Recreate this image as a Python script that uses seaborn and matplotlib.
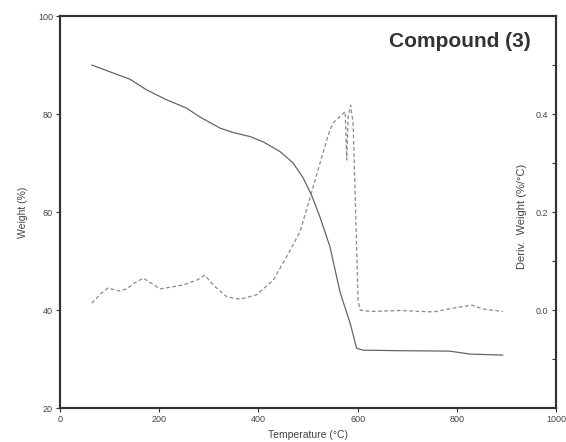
#%% Importing libraries
import pandas as pd
import seaborn as sns
import matplotlib.pyplot as plt

#%% Data
temp_w = [64, 101, 141, 175, 215, 255, 282, 323, 350, 383, 410, 444, 470, 490,
          507, 524, 544, 565, 585, 598, 611, 685, 786, 827, 893]
weight = [90.0, 88.6, 87.1, 84.9, 82.9, 81.2, 79.4, 77.1, 76.2, 75.4, 74.3, 72.3,
          70.0, 67.0, 63.5, 59.0, 53.0, 43.5, 37.3, 32.2, 31.8, 31.7, 31.6, 31.0, 30.8]

temp_d = [64, 84, 97, 110, 121, 134, 150, 168, 185, 202, 225, 248, 276, 292, 310,
          336, 363, 396, 430, 457, 484, 507, 528, 544, 551, 575, 578, 581, 586, 591,
          598, 601, 605, 625, 685, 753, 793, 830, 853, 893]
deriv = [0.014, 0.035, 0.045, 0.041, 0.039, 0.043, 0.055, 0.065, 0.054, 0.043,
         0.047, 0.051, 0.061, 0.071, 0.050, 0.027, 0.022, 0.031, 0.061, 0.109,
         0.160, 0.239, 0.313, 0.367, 0.382, 0.405, 0.306, 0.394, 0.418, 0.380,
         0.130, 0.020, 0.000, -0.003, -0.001, -0.004, 0.004, 0.010, 0.002, -0.003]

x_ticks = [0, 200, 400, 600, 800, 1000]
y_ticks = [20, 40, 60, 80, 100]
d_ticks = [0.0, 0.2, 0.4]

weight_df = pd.DataFrame({'Temperature': temp_w, 'Weight': weight})
deriv_df = pd.DataFrame({'Temperature': temp_d, 'Deriv': deriv})

#%% Plot
sns.set_theme(style='white')
plt.rcParams['font.family'] = ['Liberation Sans', 'DejaVu Sans']
txt = '#444444'

fig = plt.figure(figsize=(5.66, 4.42), dpi=100)
ax = fig.add_axes([60/566, 34/442, 496/566, 392/442])
ax2 = ax.twinx()

sns.lineplot(data=weight_df, x='Temperature', y='Weight', ax=ax,
             color='#666666', linewidth=0.9)
sns.lineplot(data=deriv_df, x='Temperature', y='Deriv', ax=ax2,
             color='#8a8a8a', linewidth=0.9, linestyle=(0, (3, 2)))

ax.set_xlim(0, 1000)
ax.set_ylim(20, 100)
ax2.set_ylim(-0.2, 0.6)
ax.set_xticks(x_ticks)
ax.set_yticks(y_ticks)
ax2.set_yticks(d_ticks)
ax2.set_yticks([-0.1, 0.1, 0.3, 0.5], minor=True)
ax2.set_yticklabels(['0.0', '0.2', '0.4'])

ax.set_xlabel('Temperature (°C)', fontsize=7.5, color=txt, labelpad=4)
ax.set_ylabel('Weight (%)', fontsize=7.5, color=txt)
ax.yaxis.set_label_coords(-0.065, 0.5)
ax2.set_ylabel('Deriv.  Weight (%/°C)', fontsize=8, color=txt, rotation=90)
ax2.yaxis.set_label_coords(0.922, 0.49)

ax.tick_params(axis='both', direction='out', length=3, width=0.8, pad=2,
               labelsize=6.5, labelcolor=txt, color='#333333',
               left=True, bottom=True)
ax2.tick_params(axis='y', which='both', direction='in', length=3, width=0.8,
                pad=-15, labelsize=6.5, labelcolor=txt, color='#333333')

for a in (ax, ax2):
    for s in a.spines.values():
        s.set_visible(True)
        s.set_color('#333333')
        s.set_linewidth(1.5)

ax.text(0.806, 0.934, 'Compound (3)', transform=ax.transAxes, ha='center',
        va='center', fontsize=15, fontweight='bold', color='#333333')

fig.savefig('out.png', dpi=100)
